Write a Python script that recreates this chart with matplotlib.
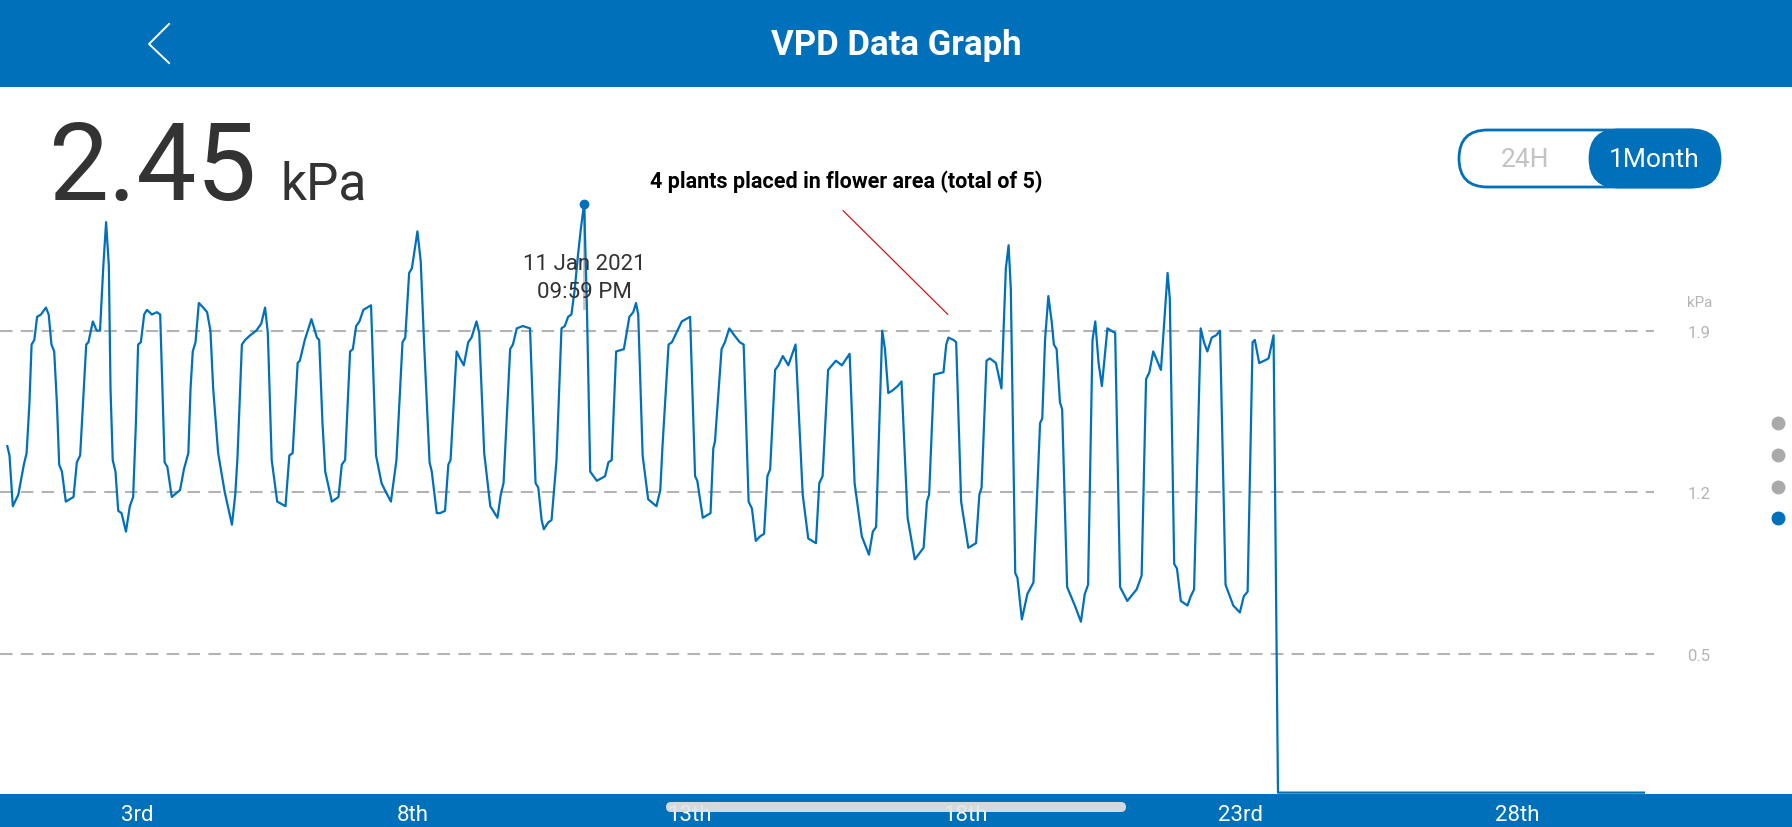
import matplotlib
matplotlib.use('Agg')
import matplotlib.pyplot as plt
from matplotlib.patches import Rectangle, FancyBboxPatch

W, H = 1792, 828
BLUE = '#0070ba'

# day of month vs VPD (kPa)
days = [0.65, 0.69, 0.75, 0.85, 0.95, 1.00, 1.05, 1.09, 1.14, 1.19, 1.26, 1.35, 1.40, 1.45, 1.50,
        1.55, 1.59, 1.64, 1.71, 1.85, 1.91, 1.97, 2.02, 2.08, 2.12, 2.20, 2.27, 2.33, 2.39, 2.44,
        2.49, 2.52, 2.56, 2.61, 2.66, 2.72, 2.80, 2.87, 2.93, 2.98, 3.02, 3.07, 3.13, 3.18, 3.27,
        3.36, 3.42, 3.46, 3.50, 3.55, 3.63, 3.78, 3.85, 3.93, 3.97, 4.01, 4.06, 4.12, 4.20, 4.27,
        4.33, 4.38, 4.47, 4.59, 4.72, 4.78, 4.82, 4.90, 4.96, 5.05, 5.16, 5.25, 5.32, 5.37, 5.41,
        5.44, 5.54, 5.69, 5.76, 5.82, 5.91, 5.95, 6.04, 6.16, 6.26, 6.30, 6.36, 6.41, 6.53, 6.65,
        6.71, 6.77, 6.86, 6.91, 6.97, 7.03, 7.10, 7.17, 7.24, 7.33, 7.43, 7.49, 7.60, 7.66, 7.70,
        7.81, 7.86, 7.93, 7.98, 8.08, 8.14, 8.20, 8.30, 8.34, 8.43, 8.49, 8.58, 8.64, 8.68, 8.79,
        8.85, 8.92, 9.00, 9.06, 9.15, 9.20, 9.29, 9.40, 9.53, 9.59, 9.64, 9.76, 9.81, 9.88, 9.99,
        10.12, 10.22, 10.27, 10.33, 10.37, 10.45, 10.51, 10.60, 10.69, 10.75, 10.81, 10.87, 10.93,
        10.99, 11.04, 11.10, 11.15, 11.21, 11.27, 11.33, 11.48, 11.54, 11.60, 11.68, 11.82, 11.92,
        11.99, 12.04, 12.08, 12.16, 12.26, 12.41, 12.48, 12.52, 12.63, 12.69, 12.75, 12.87, 13.02,
        13.11, 13.15, 13.25, 13.39, 13.44, 13.47, 13.59, 13.65, 13.73, 13.82, 13.92, 13.99, 14.08,
        14.14, 14.21, 14.29, 14.36, 14.42, 14.47, 14.56, 14.62, 14.70, 14.80, 14.93, 15.06, 15.16,
        15.30, 15.36, 15.42, 15.52, 15.66, 15.77, 15.91, 16.00, 16.13, 16.26, 16.33, 16.39, 16.50,
        16.55, 16.61, 16.68, 16.78, 16.85, 16.96, 17.09, 17.25, 17.31, 17.35, 17.44, 17.61, 17.66,
        17.70, 17.79, 17.84, 17.93, 18.06, 18.20, 18.26, 18.30, 18.39, 18.45, 18.56, 18.66, 18.74,
        18.79, 18.83, 18.91, 18.95, 19.03, 19.13, 19.24, 19.36, 19.40, 19.45, 19.51, 19.57, 19.61,
        19.66, 19.72, 19.76, 19.85, 19.99, 20.10, 20.17, 20.23, 20.31, 20.36, 20.42, 20.48, 20.58,
        20.72, 20.81, 20.94, 21.11, 21.20, 21.28, 21.34, 21.41, 21.55, 21.67, 21.71, 21.79, 21.84,
        21.91, 22.03, 22.09, 22.15, 22.27, 22.33, 22.39, 22.47, 22.55, 22.62, 22.72, 22.86, 22.98,
        23.05, 23.12, 23.21, 23.25, 23.33, 23.42, 23.50, 23.59, 23.67, 30.30]
vpd = [1.40, 1.36, 1.14, 1.19, 1.32, 1.37, 1.58, 1.84, 1.86, 1.96, 1.97, 2.00, 1.97, 1.84, 1.81,
       1.58, 1.32, 1.29, 1.16, 1.18, 1.33, 1.36, 1.58, 1.84, 1.85, 1.94, 1.90, 1.90, 2.18, 2.37,
       2.18, 1.65, 1.34, 1.29, 1.12, 1.11, 1.03, 1.14, 1.18, 1.50, 1.84, 1.85, 1.97, 1.99, 1.97,
       1.98, 1.97, 1.65, 1.33, 1.31, 1.18, 1.21, 1.30, 1.37, 1.65, 1.81, 1.85, 2.02, 2.00, 1.98,
       1.90, 1.65, 1.37, 1.20, 1.06, 1.19, 1.35, 1.84, 1.86, 1.88, 1.90, 1.93, 2.00, 1.89, 1.58,
       1.34, 1.16, 1.14, 1.36, 1.37, 1.76, 1.77, 1.86, 1.95, 1.87, 1.86, 1.50, 1.29, 1.16, 1.18,
       1.32, 1.34, 1.81, 1.82, 1.92, 1.94, 1.99, 2.00, 2.01, 1.36, 1.24, 1.21, 1.16, 1.27, 1.34,
       1.85, 1.87, 2.15, 2.17, 2.33, 2.20, 1.85, 1.33, 1.29, 1.11, 1.11, 1.12, 1.32, 1.34, 1.81,
       1.78, 1.75, 1.85, 1.87, 1.94, 1.89, 1.37, 1.14, 1.09, 1.19, 1.24, 1.82, 1.84, 1.91, 1.92,
       1.91, 1.24, 1.22, 1.08, 1.04, 1.07, 1.08, 1.34, 1.91, 1.92, 1.96, 1.97, 2.08,
       2.23, 2.34, 2.45, 2.01, 1.29, 1.27, 1.25, 1.27, 1.33, 1.34, 1.81, 1.82, 1.96,
       1.98, 2.02, 1.97, 1.36, 1.17, 1.14, 1.21, 1.40, 1.84, 1.85, 1.88, 1.94, 1.96,
       1.27, 1.25, 1.09, 1.11, 1.39, 1.42, 1.82, 1.85, 1.91, 1.88, 1.85, 1.84, 1.16,
       1.13, 0.99, 1.01, 1.02, 1.27, 1.30, 1.73, 1.75, 1.79, 1.75, 1.84, 1.19, 1.00,
       0.98, 1.24, 1.27, 1.73, 1.77, 1.75, 1.80, 1.24, 1.01, 0.93, 1.03, 1.05, 1.90,
       1.82, 1.63, 1.64, 1.66, 1.68, 1.09, 0.91, 0.96, 1.16, 1.19, 1.71, 1.72, 1.84,
       1.87, 1.86, 1.85, 1.16, 0.96, 0.98, 1.19, 1.22, 1.77, 1.78, 1.76, 1.65, 2.17,
       2.27, 2.08, 0.85, 0.83, 0.65, 0.76, 0.81, 1.50, 1.52, 1.86, 2.05, 1.94, 1.84,
       1.82, 1.59, 1.56, 0.79, 0.71, 0.64, 0.76, 0.80, 1.86, 1.94, 1.76, 1.66, 1.91,
       1.89, 0.79, 0.73, 0.78, 0.84, 1.69, 1.72, 1.81, 1.73, 2.15, 2.04, 0.89, 0.87,
       0.73, 0.71, 0.75, 0.78, 1.91, 1.85, 1.81, 1.87, 1.88, 1.90, 0.80, 0.71, 0.68,
       0.75, 0.77, 1.85, 1.86, 1.76, 1.77, 1.78, 1.88, -0.10, -0.10]

grid_values = [0.5, 1.2, 1.9]
tick_days = [3, 8, 13, 18, 23, 28]
tick_labels = ['3rd', '8th', '13th', '18th', '23rd', '28th']
current_day = 11.10
current_value = 2.45
tooltip_lines = ['11 Jan 2021', '09:59 PM']
note_text = '4 plants placed in flower area (total of 5)'
note_from = (15.79, 2.42)
note_to = (17.69, 1.97)

plt.rcParams['font.family'] = ['Roboto', 'DejaVu Sans']

fig = plt.figure(figsize=(W / 100, H / 100), dpi=100)

# background layer in screen pixels (y down)
bg = fig.add_axes([0, 0, 1, 1])
bg.set_xlim(0, W)
bg.set_ylim(H, 0)
bg.axis('off')

bg.add_patch(Rectangle((0, 0), W, 88, color=BLUE, lw=0))
bg.add_patch(Rectangle((0, 795), W, 33, color=BLUE, lw=0))
bg.plot([169, 149, 169], [25, 45, 64], color='white', lw=1.4)
bg.text(896, 45, 'VPD Data Graph', color='white', fontsize=25, weight='bold',
        ha='center', va='center')

bg.text(48, 200, f'{current_value:.2f}', color='#333333', fontsize=77,
        ha='left', va='baseline')
bg.text(281, 200, 'kPa', color='#333333', fontsize=37,
        ha='left', va='baseline')

# 24H / 1Month toggle
bg.add_patch(FancyBboxPatch((1459, 131), 259, 57, boxstyle='round,pad=0,rounding_size=28.5',
                            fc='white', ec=BLUE, lw=2))
bg.add_patch(FancyBboxPatch((1590, 131), 130, 57, boxstyle='round,pad=0,rounding_size=28.5',
                            fc=BLUE, ec=BLUE, lw=2))
bg.text(1525, 160, '24H', color='#c3c3c3', fontsize=19, ha='center', va='center')
bg.text(1654, 160, '1Month', color='white', fontsize=19, ha='center', va='center')

bg.text(1687, 303, 'kPa', color='#b5b5b5', fontsize=11, ha='left', va='center')

# page dots
bg.plot([1778, 1778, 1778], [424, 456, 488], 'o', color='#aaaaaa', ms=9)
bg.plot([1778], [519], 'o', color=BLUE, ms=9)

# chart
ax = fig.add_axes([0, 1 - 795 / H, 1654 / W, (795 - 88) / H])
ax.set_zorder(1)
ax.set_facecolor('none')
ax.set_xlim(0.518, 30.482)
ax.set_ylim(-0.106, 2.955)
for s in ax.spines.values():
    s.set_visible(False)

ax.set_yticks(grid_values)
ax.set_yticklabels([f'{v:.1f}' for v in grid_values])
ax.yaxis.tick_right()
ax.tick_params(axis='y', length=0, pad=24, labelcolor='#b5b5b5', labelsize=12)
ax.grid(axis='y', color='#b3b3b3', lw=1.5, ls=(0, (6, 4)))

ax.set_xticks(tick_days)
ax.set_xticklabels(tick_labels)
ax.tick_params(axis='x', length=0, pad=7, labelcolor='white', labelsize=16)

ax.plot(days, vpd, color=BLUE, lw=1.6, zorder=3, solid_joinstyle='round')

ax.plot([current_day, current_day], [current_value, 2.0], color='#c4c4c4', lw=2, zorder=2)
ax.plot([current_day], [current_value], 'o', color=BLUE, ms=6, zorder=4)
ax.text(current_day, 2.19, tooltip_lines[0], color='#333333', fontsize=16,
        ha='center', va='center', zorder=5)
ax.text(current_day, 2.07, tooltip_lines[1], color='#333333', fontsize=16,
        ha='center', va='center', zorder=5)

ax.text(15.85, 2.55, note_text, color='black', fontsize=15.5, weight='bold',
        ha='center', va='center')
ax.annotate('', xy=note_to, xytext=note_from,
            arrowprops=dict(arrowstyle='-', color='#cc0000', lw=0.8, shrinkA=0, shrinkB=0))

# home indicator on top of everything
fg = fig.add_axes([0, 0, 1, 1])
fg.set_zorder(2)
fg.set_xlim(0, W)
fg.set_ylim(H, 0)
fg.axis('off')
fg.add_patch(FancyBboxPatch((666, 803), 460, 10, boxstyle='round,pad=0,rounding_size=5',
                            fc='#e4e4e4', ec='none', alpha=0.92))

fig.savefig('out.png', dpi=100)
plt.close(fig)
